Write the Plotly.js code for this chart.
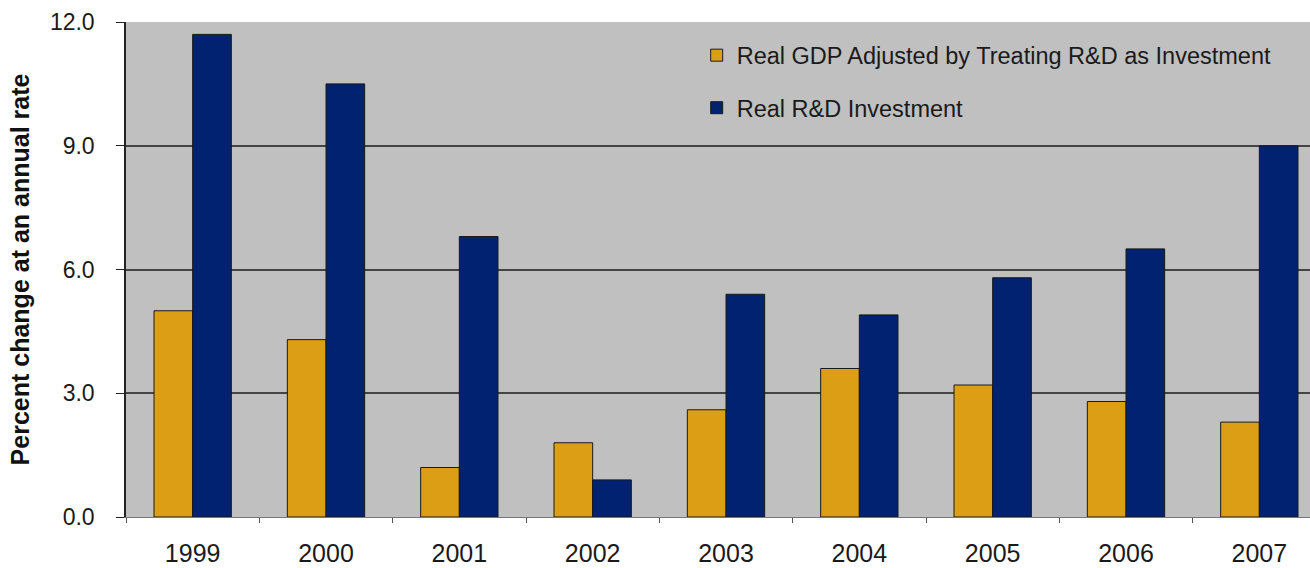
<!DOCTYPE html>
<html>
<head>
<meta charset="utf-8">
<script src="https://cdn.plot.ly/plotly-3.0.1.min.js"></script>
<style>html,body{margin:0;padding:0;background:#fff;}#chart{width:1310px;height:568px;}</style>
</head>
<body>
<div id="chart"></div>
<script>
const years = ["1999","2000","2001","2002","2003","2004","2005","2006","2007"];
const gdpAdjusted = [5.0, 4.3, 1.2, 1.8, 2.6, 3.6, 3.2, 2.8, 2.3];
const rdInvestment = [11.7, 10.5, 6.8, 0.9, 5.4, 4.9, 5.8, 6.5, 9.0];
const seriesNames = ["Real GDP Adjusted by Treating R&D as Investment", "Real R&D Investment"];
const yTicks = [0, 3, 6, 9, 12];
const yTickLabels = ["0.0", "3.0", "6.0", "9.0", "12.0"];

const traces = [
  {type: "bar", x: years, y: gdpAdjusted, name: seriesNames[0], legendgroup: "a",
   marker: {color: "#DC9E14", line: {color: "#1a1a1a", width: 1}}, hoverinfo: "x+y"},
  {type: "bar", x: years, y: rdInvestment, name: seriesNames[1], legendgroup: "b",
   marker: {color: "#002270", line: {color: "#1a1a1a", width: 1}}, hoverinfo: "x+y"}
];

const layout = {
  width: 1310, height: 568,
  margin: {l: 126, r: 0, t: 22, b: 51},
  paper_bgcolor: "#ffffff",
  plot_bgcolor: "#c0c0c0",
  barmode: "group",
  bargap: 0.42,
  bargroupgap: 0,
  font: {family: "Liberation Sans, Arial, sans-serif", color: "#222"},
  showlegend: true,
  legend: {x: 0.482, y: 0.977, xanchor: "left", yanchor: "top", bgcolor: "rgba(0,0,0,0)",
           font: {size: 23.5, color: "#1a1a1a"}, traceorder: "grouped", tracegroupgap: 19,
           itemwidth: 30},
  xaxis: {type: "category", range: [-0.5, 8.38], showgrid: false,
          ticks: "outside", tickson: "boundaries", ticklen: 5, tickcolor: "#555",
          showline: true, linecolor: "#777", linewidth: 1,
          ticklabelstandoff: 14,
          tickfont: {size: 25, color: "#1a1a1a"}, fixedrange: true},
  yaxis: {range: [0, 12], tickvals: yTicks, ticktext: yTickLabels,
          showgrid: true, gridcolor: "#444", gridwidth: 1.8,
          zeroline: false, showline: true, linecolor: "#222", linewidth: 1.5,
          ticks: "outside", ticklen: 8, tickcolor: "#222",
          ticklabelstandoff: 17,
          tickfont: {size: 23, color: "#1a1a1a"},
          title: {text: "Percent change at an annual rate", standoff: 13,
                  font: {size: 25, color: "#111", family: "Liberation Sans, Arial, sans-serif", weight: "bold"}},
          fixedrange: true}
};

Plotly.newPlot("chart", traces, layout, {displayModeBar: false, responsive: false});
</script>
</body>
</html>
